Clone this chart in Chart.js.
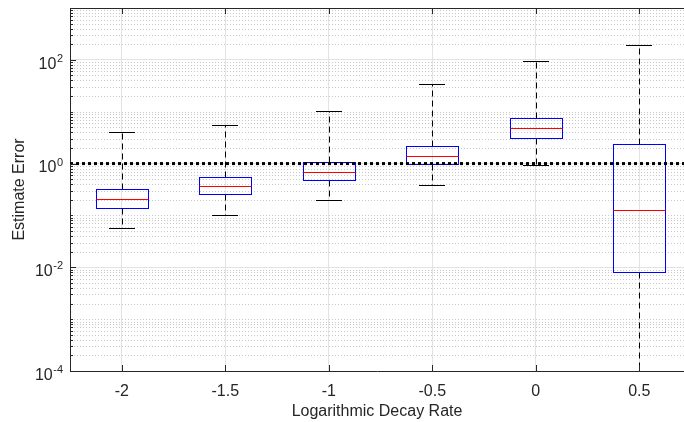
<!DOCTYPE html>
<html>
<head>
<meta charset="utf-8">
<script src="https://cdn.jsdelivr.net/npm/chart.js@4.4.0/dist/chart.umd.min.js"></script>
<style>
  html, body { margin: 0; padding: 0; background: #fff; }
  #wrap { width: 684px; height: 422px; }
</style>
</head>
<body>
<div id="wrap"><canvas id="chart"></canvas></div>
<script>
// ── data ──
const rates       = [-2, -1.5, -1, -0.5, 0, 0.5];
const whiskerHigh = [4.1, 5.6, 10.3, 34, 93, 197];
const q3          = [0.32, 0.55, 1.06, 2.15, 7.6, 2.35];
const medians     = [0.21, 0.37, 0.69, 1.4, 4.8, 0.13];
const q1          = [0.14, 0.26, 0.48, 1.0, 3.16, 0.0081];
const whiskerLow  = [0.056, 0.103, 0.2, 0.39, 0.93, 0.00001];
const yMajor      = [1e-4, 1e-2, 1, 1e2];
const yExponents  = ['-4', '-2', '0', '2'];
const refLevel    = 1;

const X_MIN = -2.25, X_MAX = 0.716;
const Y_MIN = 1e-4, Y_MAX = 1e3;
const BOX_HALF = 0.125, CAP_HALF = 0.0625;
const FONT = "'Liberation Sans', Arial, Helvetica, sans-serif";
const AXIS = '#262626';

// minor grid, boxes, axis ticks, y labels with exponents
const boxPlot = {
  id: 'boxPlot',
  beforeDatasetsDraw(chart) {
    const { ctx, chartArea: a, scales: { x, y } } = chart;
    ctx.save();
    // dotted minor grid
    ctx.strokeStyle = '#c9c9c9';
    ctx.lineWidth = 1;
    ctx.setLineDash([1, 2]);
    for (let e = -4; e < 3; e++) {
      for (let k = 1; k <= 9; k++) {
        const v = k * Math.pow(10, e);
        if (k === 1 && yMajor.includes(v)) continue;
        const py = Math.round(y.getPixelForValue(v)) + 0.5;
        ctx.beginPath(); ctx.moveTo(a.left + 1, py); ctx.lineTo(a.right, py); ctx.stroke();
      }
    }
    ctx.beginPath();
    ctx.rect(a.left, a.top, a.right - a.left, a.bottom - a.top);
    ctx.clip();
    rates.forEach((r, i) => {
      const cx = Math.round(x.getPixelForValue(r)) + 0.5;
      const bl = Math.round(x.getPixelForValue(r - BOX_HALF)) + 0.5;
      const br = Math.round(x.getPixelForValue(r + BOX_HALF)) + 0.5;
      const cl = Math.round(x.getPixelForValue(r - CAP_HALF));
      const cr = Math.round(x.getPixelForValue(r + CAP_HALF));
      const pHi = Math.round(y.getPixelForValue(whiskerHigh[i])) + 0.5;
      const pQ3 = Math.round(y.getPixelForValue(q3[i])) + 0.5;
      const pMd = Math.round(y.getPixelForValue(medians[i])) + 0.5;
      const pQ1 = Math.round(y.getPixelForValue(q1[i])) + 0.5;
      const pLo = Math.round(y.getPixelForValue(whiskerLow[i])) + 0.5;
      // whiskers
      ctx.strokeStyle = '#000';
      ctx.lineWidth = 1;
      ctx.setLineDash([6, 4]);
      ctx.beginPath(); ctx.moveTo(cx, pQ3); ctx.lineTo(cx, pHi); ctx.stroke();
      ctx.beginPath(); ctx.moveTo(cx, pQ1); ctx.lineTo(cx, pLo); ctx.stroke();
      ctx.setLineDash([]);
      ctx.beginPath(); ctx.moveTo(cl, pHi); ctx.lineTo(cr, pHi); ctx.stroke();
      ctx.beginPath(); ctx.moveTo(cl, pLo); ctx.lineTo(cr, pLo); ctx.stroke();
      // box
      ctx.strokeStyle = '#0000ff';
      ctx.strokeRect(bl, pQ3, br - bl, pQ1 - pQ3);
      // median
      ctx.strokeStyle = '#ff0000';
      ctx.beginPath(); ctx.moveTo(bl, pMd); ctx.lineTo(br, pMd); ctx.stroke();
    });
    ctx.restore();
  },
  afterDraw(chart) {
    const { ctx, chartArea: a, scales: { x, y } } = chart;
    ctx.save();
    ctx.strokeStyle = AXIS;
    ctx.lineWidth = 1;
    // top border
    ctx.beginPath(); ctx.moveTo(a.left, a.top + 0.5); ctx.lineTo(a.right, a.top + 0.5); ctx.stroke();
    // x ticks, inward, bottom and top
    rates.forEach(r => {
      const px = Math.round(x.getPixelForValue(r)) + 0.5;
      ctx.beginPath(); ctx.moveTo(px, a.bottom); ctx.lineTo(px, a.bottom - 6); ctx.stroke();
      ctx.beginPath(); ctx.moveTo(px, a.top); ctx.lineTo(px, a.top + 6); ctx.stroke();
    });
    // y ticks, major and minor
    for (let e = -4; e <= 3; e++) {
      for (let k = 1; k <= 9; k++) {
        const v = k * Math.pow(10, e);
        if (v > Y_MAX * 1.0001) break;
        const len = (k === 1 && yMajor.includes(v)) ? 6 : 3;
        const py = Math.round(y.getPixelForValue(v)) + 0.5;
        ctx.beginPath(); ctx.moveTo(a.left, py); ctx.lineTo(a.left + len, py); ctx.stroke();
      }
    }
    // y labels 10^n
    ctx.fillStyle = AXIS;
    ctx.textAlign = 'right';
    ctx.textBaseline = 'middle';
    yMajor.forEach((v, i) => {
      const py = y.getPixelForValue(v);
      const rightEdge = a.left - 7;
      ctx.font = '11px ' + FONT;
      const ew = ctx.measureText(yExponents[i]).width;
      ctx.fillText(yExponents[i], rightEdge, py - 1);
      ctx.font = '16px ' + FONT;
      ctx.fillText('10', rightEdge - ew - 0.5, py + 4.5);
    });
    ctx.restore();
  }
};

new Chart(document.getElementById('chart').getContext('2d'), {
  type: 'scatter',
  data: {
    datasets: [{
      data: [{ x: X_MIN, y: refLevel }, { x: X_MAX, y: refLevel }],
      showLine: true, borderColor: '#000', borderWidth: 3, borderDash: [3, 3],
      pointRadius: 0, fill: false
    }]
  },
  options: {
    responsive: true, maintainAspectRatio: false, animation: false, devicePixelRatio: 1,
    layout: { padding: { top: 8, right: 0, left: 0, bottom: 0 } },
    plugins: { legend: { display: false }, tooltip: { enabled: false } },
    scales: {
      x: {
        type: 'linear', min: X_MIN, max: X_MAX,
        afterBuildTicks: s => { s.ticks = rates.map(v => ({ value: v })); },
        afterFit: s => { s.height = 51; },
        ticks: { callback: v => String(v), font: { family: FONT, size: 16 }, color: AXIS, padding: 11, maxRotation: 0, autoSkip: false },
        grid: { color: '#e3e3e3', drawTicks: false },
        border: { color: AXIS, width: 1 },
        title: { display: true, text: 'Logarithmic Decay Rate', font: { family: FONT, size: 16 }, color: AXIS, padding: { top: 0, bottom: 1 } }
      },
      y: {
        type: 'logarithmic', min: Y_MIN, max: Y_MAX,
        afterBuildTicks: s => { s.ticks = yMajor.map(v => ({ value: v })); },
        afterFit: s => { s.width = 70; },
        ticks: { display: false },
        grid: { color: '#e3e3e3', drawTicks: false },
        border: { color: AXIS, width: 1 },
        title: { display: true, text: 'Estimate Error', font: { family: FONT, size: 16 }, color: AXIS, padding: { top: 10, bottom: 0 } }
      }
    }
  },
  plugins: [boxPlot]
});
</script>
</body>
</html>
